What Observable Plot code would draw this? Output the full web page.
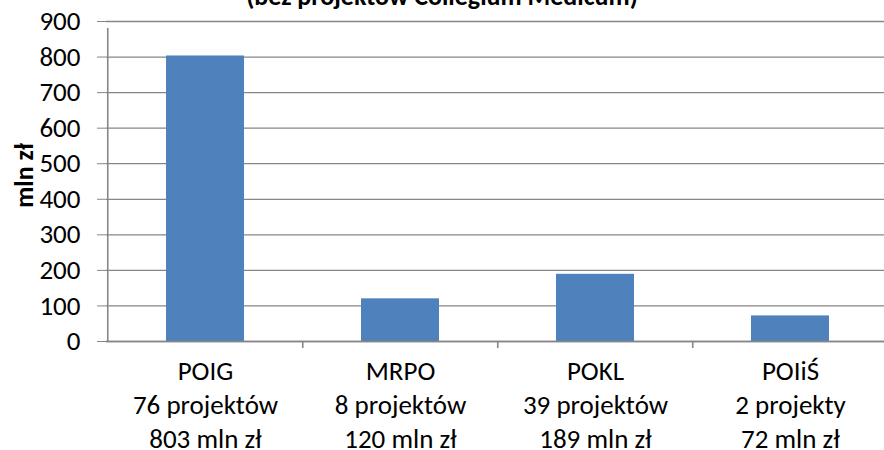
<!DOCTYPE html>
<html>
<head>
<meta charset="utf-8">
<script src="https://cdn.jsdelivr.net/npm/d3@7"></script>
<script src="https://cdn.jsdelivr.net/npm/@observablehq/plot@0.6"></script>
<style>
  html, body { margin: 0; padding: 0; background: #fff; }
  #wrap { position: relative; width: 884px; height: 450px; overflow: hidden; font-family: Carlito, Lato, sans-serif; }
  #title { position: absolute; left: 0; top: -17px; width: 884px; text-align: center; font: bold 26px/26px Carlito, Lato, sans-serif; color: #000; }
  svg { display: block; }
</style>
</head>
<body>
<div id="wrap">
  <div id="title">(bez projektów Collegium Medicum)</div>
  <div id="chart"></div>
</div>
<script>
const categories = ["POIG", "MRPO", "POKL", "POIiŚ"];
const projectLabels = ["76 projektów", "8 projektów", "39 projektów", "2 projekty"];
const values = [803, 120, 189, 72];
const valueLabels = ["803 mln zł", "120 mln zł", "189 mln zł", "72 mln zł"];
const yTicks = [0, 100, 200, 300, 400, 500, 600, 700, 800, 900];
const yLabel = "mln zł";

const data = categories.map((c, i) => ({cat: c, value: values[i]}));
const labelOf = new Map(categories.map((c, i) => [c, `${c}\n${projectLabels[i]}\n${valueLabels[i]}`]));

const gray = "#868686";
const xRange = [106, 888];
const step = (xRange[1] - xRange[0]) / categories.length;

const chart = Plot.plot({
  width: 884,
  height: 450,
  marginLeft: 106,
  marginRight: 0,
  marginTop: 21,
  marginBottom: 109,
  style: {fontFamily: "Carlito, Lato, sans-serif", background: "transparent", overflow: "visible"},
  x: {type: "band", domain: categories, range: xRange, paddingInner: 0.6, paddingOuter: 0.3, align: 0.5},
  y: {domain: [0, 900]},
  marks: [
    Plot.gridY(yTicks, {stroke: gray, strokeOpacity: 1, strokeWidth: 1.3}),
    Plot.barY(data, {x: "cat", y: "value", fill: "#4F81BD"}),
    Plot.ruleY([0], {stroke: gray, strokeWidth: 1.6}),
    Plot.ruleX([categories[0]], {dx: -step / 2, y1: 0, y2: 900, insetBottom: -7, stroke: gray, strokeWidth: 1.6}),
    Plot.ruleX(categories.slice(1), {dx: -step / 2, y1: 0, y2: 0, insetBottom: -7, stroke: gray, strokeWidth: 1.6}),
    Plot.axisY({ticks: yTicks, tickSize: 9, tickPadding: 17, fontSize: 27, stroke: gray, fill: "#000", label: null, tickFormat: d => String(d)}),
    Plot.axisX({tickSize: 0, tickPadding: 14, fontSize: 27, lineHeight: 1.26, fill: "#000", label: null, tickFormat: d => labelOf.get(d)}),
    Plot.text([yLabel], {frameAnchor: "left", textAnchor: "middle", dx: -82, dy: -6, rotate: -90, fontWeight: "bold", fontSize: 26, fill: "#000"})
  ]
});
document.getElementById("chart").appendChild(chart);
</script>
</body>
</html>
